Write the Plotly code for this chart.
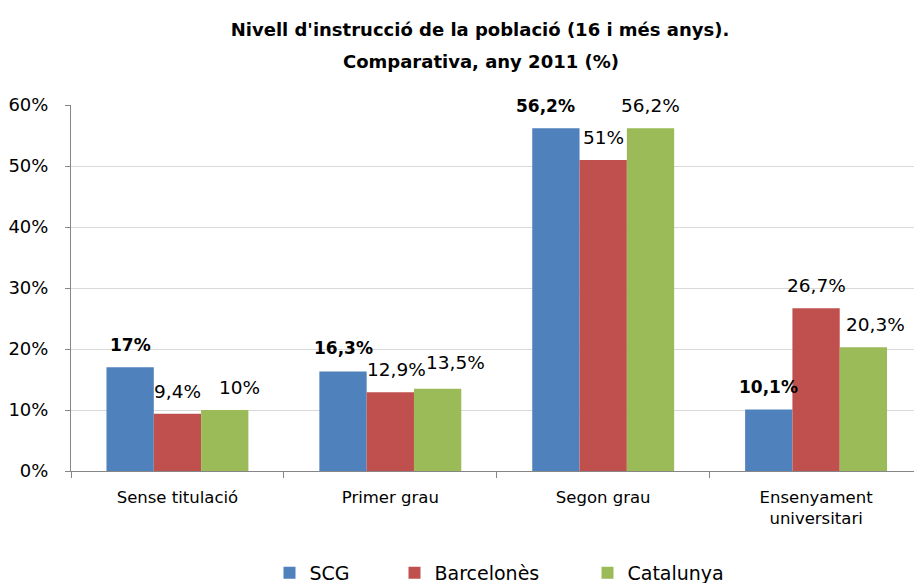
import plotly.graph_objects as go

categories = ["Sense titulació", "Primer grau", "Segon grau", "Ensenyament<br>universitari"]
series_names = ["SCG", "Barcelonès", "Catalunya"]
scg = [17.0, 16.3, 56.2, 10.1]
barcelones = [9.4, 12.9, 51.0, 26.7]
catalunya = [10.0, 13.5, 56.2, 20.3]
y_ticks = [0, 10, 20, 30, 40, 50, 60]
title_line1 = "Nivell d'instrucció de la població (16 i més anys)."
title_line2 = "Comparativa, any 2011 (%)"

colors = ["#4F81BD", "#C0504D", "#9BBB59"]
FONT = "DejaVu Sans, Liberation Sans, sans-serif"

# small manual nudges of data labels (pixels), as in the original layout
label_nudge = {(0, 2): (-10, 0), (2, 0): (15, 0), (1, 1): (6, 0),
               (2, 1): (18, 4), (2, 3): (12, 0), (0, 1): (0, 2)}

def fmt(v):
    s = ("%.1f" % v).rstrip("0").rstrip(".")
    return s.replace(".", ",") + "%"

fig = go.Figure()
all_series = [scg, barcelones, catalunya]
legend_widths = [80, 148, 100]
for name, vals, col, lw in zip(series_names, all_series, colors, legend_widths):
    fig.add_trace(go.Bar(
        name=name, x=list(range(len(categories))), y=vals,
        marker=dict(color=col, line=dict(width=0)),
        legendwidth=lw,
    ))

# data labels
bargap = 1 / 3
bw = (1 - bargap) / 3
for i, vals in enumerate(all_series):
    for j, v in enumerate(vals):
        txt = fmt(v)
        size = 18.5
        if i == 0:
            txt = "<b>" + txt + "</b>"
            size = 17
        dx, dy = label_nudge.get((i, j), (0, 0))
        fig.add_annotation(
            x=j + (i - 1) * bw, y=v, xref="x", yref="y",
            text=txt, showarrow=False, yanchor="bottom",
            xshift=dx, yshift=10 + dy,
            font=dict(family=FONT, size=size, color="#000000"),
        )

# second title line
fig.add_annotation(
    x=(481 - 71) / 843, y=(471 - 62) / 366, xref="paper", yref="paper",
    xanchor="center", yanchor="middle", showarrow=False,
    text="<b>" + title_line2 + "</b>",
    font=dict(family=FONT, size=18, color="#000000"),
)

fig.update_layout(
    width=914, height=583,
    margin=dict(l=71, r=0, t=105, b=112, autoexpand=False),
    paper_bgcolor="white", plot_bgcolor="white",
    barmode="group", bargap=bargap, bargroupgap=0,
    font=dict(family=FONT, size=16, color="#000000"),
    title=dict(
        text="<b>" + title_line1 + "</b>",
        x=480 / 914, xanchor="center", xref="container",
        y=1 - 30 / 583, yanchor="middle", yref="container",
        font=dict(family=FONT, size=18, color="#000000"),
    ),
    legend=dict(
        orientation="h", x=501 / 914, xanchor="center", xref="container",
        y=1 - 573 / 583, yanchor="middle", yref="container",
        font=dict(family=FONT, size=19, color="#000000"),
        traceorder="normal",
    ),
    showlegend=True,
)

fig.update_xaxes(
    tickmode="array", tickvals=list(range(len(categories))), ticktext=categories,
    range=[-0.5, 3.46],
    showline=True, linecolor="#868686", linewidth=1,
    ticks="outside", ticklen=6, tickcolor="rgba(0,0,0,0)",
    ticklabelstandoff=5,
    showgrid=False, zeroline=False,
    tickfont=dict(family=FONT, size=16.5),
)
# boundary tick marks
fig.update_xaxes(minor=dict(tickvals=[-0.5, 0.5, 1.5, 2.5, 3.5], ticks="outside", ticklen=6, tickcolor="#868686"))

fig.update_yaxes(
    range=[0, 60], tickvals=y_ticks, ticktext=[f"{t}%" for t in y_ticks],
    showline=True, linecolor="#868686", linewidth=1,
    ticks="outside", ticklen=5, tickcolor="#868686",
    ticklabelstandoff=13,
    showgrid=True, gridcolor="#D9D9D9", gridwidth=1, zeroline=False,
    tickfont=dict(family=FONT, size=18),
)

fig.write_html("out.html", config={"displayModeBar": False},
               post_script="document.body.style.margin='0';")
